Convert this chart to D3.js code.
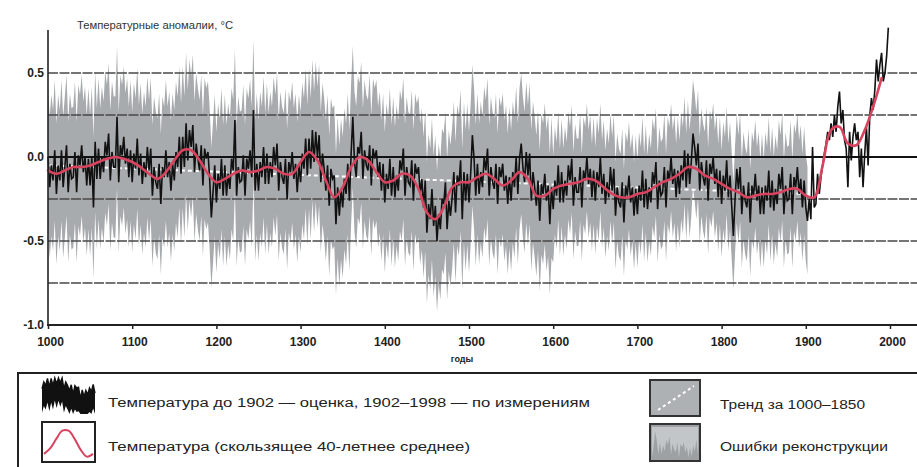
<!DOCTYPE html>
<html>
<head>
<meta charset="utf-8">
<script src="https://cdn.jsdelivr.net/npm/d3@7"></script>
<style>
  html, body { margin: 0; padding: 0; background: #fff; }
  svg { display: block; }
  text { font-family: "Liberation Sans", Arial, sans-serif; }
</style>
</head>
<body>
<svg id="chart" width="917" height="467"></svg>
<script>
// Northern hemisphere temperature anomalies, 1000-1998

// reconstruction / measurements, one value every 2 years (1000, 1002, ... 1998)
const reconVals = [
  0.00, -0.18, -0.05, -0.14, 0.04,   -0.22, -0.05, -0.14, 0.04, -0.18,
  -0.06, 0.07, -0.21, -0.04, -0.13,  -0.12, 0.03, -0.21, 0.01, -0.05,
  0.07, -0.09, 0.00, -0.17, -0.01,   -0.17, 0.00, -0.30, 0.09, -0.13,
  0.05, -0.13, 0.00, -0.09, 0.09,    0.01, 0.14, -0.14, 0.03, -0.06,
  -0.06, 0.24, -0.15, 0.07, 0.01,    0.12, -0.04, 0.05, -0.12, 0.04,
  // 1100
  -0.15, 0.02, -0.07, 0.11, -0.11,   0.02, -0.16, -0.03, -0.12, 0.06,
  -0.08, 0.05, -0.23, -0.06, -0.15,  -0.19, -0.04, -0.28, -0.06, -0.12,
  0.04, -0.12, -0.03, -0.20, -0.04,  -0.14, 0.03, -0.06, 0.12, -0.10,
  0.12, -0.06, 0.20, -0.02, 0.16,    0.06, 0.19, -0.09, 0.08, -0.01,
  -0.08, 0.07, -0.17, 0.05, -0.01,   0.03, -0.13, -0.36, -0.21, -0.05,
  // 1200
  -0.27, -0.10, -0.19, -0.01, -0.23, -0.05, -0.23, -0.10, -0.19, -0.01,
  -0.08, 0.22, -0.23, -0.06, -0.15,  -0.14, 0.01, -0.23, -0.01, -0.07,
  0.04, -0.12, 0.28, -0.20, -0.04,   -0.20, -0.03, -0.12, 0.06, -0.16,
  0.02, -0.16, -0.03, -0.12, 0.06,   -0.05, 0.08, -0.20, -0.03, -0.12,
  -0.16, -0.01, -0.25, -0.03, -0.09, 0.03, -0.13, -0.04, -0.21, -0.05,
  // 1300
  -0.15, 0.02, -0.07, 0.11, -0.11,   0.11, -0.07, 0.16, -0.03, 0.15,
  0.00, 0.13, -0.15, 0.02, -0.07,    -0.20, -0.05, -0.29, -0.07, -0.13,
  -0.11, -0.40, -0.18, -0.35, -0.19, -0.30, -0.13, -0.22, -0.04, -0.26,
  0.02, 0.24, -0.03, -0.12, 0.06,    0.02, 0.15, -0.13, 0.04, -0.05,
  -0.08, 0.07, -0.17, 0.05, -0.01,   0.04, -0.12, -0.03, -0.20, -0.04,
  // 1400
  -0.27, -0.10, -0.19, -0.01, -0.23, -0.06, -0.24, -0.11, -0.20, -0.02,
  -0.08, 0.05, -0.23, -0.06, -0.15,  -0.17, -0.02, -0.26, -0.04, -0.10,
  -0.06, -0.22, -0.13, -0.30, -0.14, -0.45, -0.28, -0.37, -0.19, -0.41,
  -0.29, -0.50, -0.34, -0.43, -0.25, -0.28, -0.15, -0.43, -0.26, -0.35,
  -0.24, -0.09, -0.33, -0.11, -0.17, -0.02, -0.37, -0.09, -0.26, -0.10,
  // 1500
  -0.27, -0.10, 0.13, -0.01, -0.23,  -0.04, -0.22, -0.09, -0.18, 0.00,
  -0.08, 0.05, -0.23, -0.06, -0.15,  -0.19, -0.04, -0.28, -0.06, -0.12,
  -0.04, -0.20, -0.11, -0.28, -0.12, -0.26, -0.09, -0.18, 0.00, -0.22,
  -0.01, 0.08, -0.06, -0.15, 0.03,   -0.11, 0.02, -0.26, -0.09, -0.18,
  -0.29, -0.14, -0.38, -0.16, -0.22, -0.10, -0.26, -0.17, -0.40, -0.18,
  // 1600
  -0.31, -0.14, -0.23, -0.05, -0.27, -0.09, -0.27, -0.14, -0.23, -0.05,
  -0.14, -0.01, -0.29, -0.12, -0.21, -0.21, -0.06, -0.30, -0.08, -0.14,
  0.00, -0.16, -0.07, -0.24, -0.08,  -0.26, -0.09, -0.18, 0.00, -0.22,
  -0.10, -0.28, -0.15, -0.24, -0.06, -0.20, -0.07, -0.35, -0.18, -0.27,
  -0.30, -0.15, -0.39, -0.17, -0.23, -0.11, -0.27, -0.18, -0.35, -0.19,
  // 1700
  -0.34, -0.17, -0.26, -0.08, -0.30, -0.13, -0.31, -0.18, -0.27, -0.09,
  -0.16, -0.03, -0.31, -0.14, -0.23, -0.21, -0.06, -0.30, -0.08, -0.14,
  0.00, -0.16, -0.07, -0.24, -0.08,  -0.22, -0.05, -0.14, 0.04, -0.18,
  0.02, -0.16, -0.03, 0.14, 0.06,    -0.05, 0.08, -0.20, -0.03, -0.12,
  -0.17, -0.02, -0.26, -0.04, -0.10, 0.00, -0.16, -0.07, -0.24, -0.08,
  // 1800
  -0.28, -0.11, -0.20, -0.02, -0.24, -0.11, -0.29, -0.47, -0.25, -0.07,
  -0.19, -0.06, -0.34, -0.17, -0.26, -0.30, -0.15, -0.39, -0.17, -0.23,
  -0.10, -0.26, -0.17, -0.34, -0.18, -0.34, -0.17, -0.26, -0.08, -0.30,
  -0.14, -0.32, -0.19, -0.28, -0.10, -0.19, -0.06, -0.34, -0.17, -0.26,
  -0.25, -0.10, -0.34, -0.12, -0.18, -0.06, -0.22, -0.13, -0.30, -0.14,
  // 1900
  -0.30, -0.38, -0.25, -0.37, 0.06,  -0.30, -0.28, -0.10, -0.22, -0.12,
  -0.05, 0.02, 0.08, 0.15, 0.10,     0.20, 0.12, 0.25, 0.15, 0.30,
  0.39, 0.20, 0.28, 0.10, 0.05,      -0.18, 0.15, -0.02, 0.12, 0.20,
  0.10, 0.15, -0.12, 0.05, -0.18,    0.02, 0.18, -0.05, 0.25, 0.35,
  0.28, 0.40, 0.58, 0.45, 0.55,      0.62, 0.45, 0.50, 0.60, 0.77
];
const reconStart = 1000;
const reconStep = 2;
const reconEnd = 1902;   // last year of the reconstruction (gray error band)

// 40-year running mean, every 10 years
const smoothYears = d3.range(1000, 2000, 10);
const smoothVals = [
  -0.08, -0.10, -0.08, -0.06, -0.06, -0.05, -0.03, -0.01, 0.00, -0.01,
  -0.03, -0.06, -0.10, -0.13, -0.09, -0.02, 0.04, 0.04, -0.02, -0.10,
  -0.15, -0.13, -0.10, -0.08, -0.09, -0.08, -0.06, -0.07, -0.10, -0.10,
  -0.03, 0.03, -0.02, -0.14, -0.24, -0.18, -0.06, 0.00, -0.02, -0.09,
  -0.15, -0.14, -0.10, -0.11, -0.19, -0.33, -0.37, -0.30, -0.18, -0.15,
  -0.15, -0.12, -0.10, -0.13, -0.17, -0.14, -0.09, -0.13, -0.23, -0.23,
  -0.19, -0.17, -0.16, -0.15, -0.13, -0.14, -0.18, -0.22, -0.24, -0.24,
  -0.22, -0.21, -0.18, -0.15, -0.13, -0.10, -0.06, -0.07, -0.11, -0.13,
  -0.16, -0.19, -0.21, -0.24, -0.23, -0.22, -0.22, -0.21, -0.19, -0.19,
  -0.23, -0.24, -0.05, 0.16, 0.18, 0.08, 0.07, 0.16, 0.30, 0.47
];

// reconstruction error (2 sigma) by period
const errStarts = [1000, 1600];
const errVals = [0.42, 0.32];

// linear trend 1000-1850
const trendYears = [1000, 1900];
const trendVals = [-0.05, -0.22];

const gridVals = [0.5, 0.25, -0.25, -0.5, -0.75];
const yTicks = [0.5, 0, -0.5, -1.0];
const xTicks = d3.range(1000, 2001, 100);

const titleText = "Температурные аномалии, °C";
const xTitle = "годы";
const legendItems = [
  { key: "recon", text: "Температура до 1902 — оценка, 1902–1998 — по измерениям" },
  { key: "smooth", text: "Температура (скользящее 40-летнее среднее)" },
  { key: "trend", text: "Тренд за 1000–1850" },
  { key: "error", text: "Ошибки реконструкции" }
];

const W = 917, H = 467;
const svg = d3.select("#chart");

const x = d3.scaleLinear().domain([1000, 2000]).range([48, 890]);
const y = d3.scaleLinear().domain([-1, 0.5]).range([325, 73]);

const recon = reconVals.map((v, i) => ({ yr: reconStart + i * reconStep, v: v }));
const errAt = yr => errVals[d3.bisectRight(errStarts, yr) - 1];

// gray error band
const band = recon.filter(d => d.yr <= reconEnd);
svg.append("path")
  .datum(band)
  .attr("fill", "#a8abad")
  .attr("d", d3.area()
    .x(d => x(d.yr))
    .y0(d => y(d.v - errAt(d.yr)))
    .y1(d => y(d.v + errAt(d.yr))));

// dashed grid lines
svg.append("g").selectAll("line")
  .data(gridVals)
  .join("line")
  .attr("x1", 48).attr("x2", W)
  .attr("y1", d => y(d)).attr("y2", d => y(d))
  .attr("stroke", "#484848")
  .attr("stroke-width", 1.6)
  .attr("stroke-dasharray", "10,1.5");

// trend (white dashes)
svg.append("path")
  .datum(trendYears.map((yr, i) => [yr, trendVals[i]]))
  .attr("fill", "none")
  .attr("stroke", "#fff")
  .attr("stroke-width", 2)
  .attr("stroke-dasharray", "4,3")
  .attr("d", d3.line().x(d => x(d[0])).y(d => y(d[1])));

// annual temperatures
svg.append("path")
  .datum(recon)
  .attr("fill", "none")
  .attr("stroke", "#111")
  .attr("stroke-width", 1.6)
  .attr("stroke-linejoin", "miter")
  .attr("d", d3.line().x(d => x(d.yr)).y(d => y(d.v)));

// zero line
svg.append("line")
  .attr("x1", 48).attr("x2", W)
  .attr("y1", y(0)).attr("y2", y(0))
  .attr("stroke", "#111").attr("stroke-width", 2.2);

// 40-year mean
svg.append("path")
  .datum(smoothYears.map((yr, i) => [yr, smoothVals[i]]))
  .attr("fill", "none")
  .attr("stroke", "#d8435f")
  .attr("stroke-width", 2.6)
  .attr("stroke-linecap", "round")
  .attr("d", d3.line().x(d => x(d[0])).y(d => y(d[1])).curve(d3.curveCatmullRom));

// axes
svg.append("line")
  .attr("x1", 48).attr("x2", 48)
  .attr("y1", 30).attr("y2", y(-1))
  .attr("stroke", "#222").attr("stroke-width", 1.6);

svg.append("line")
  .attr("x1", 47).attr("x2", W)
  .attr("y1", y(-1)).attr("y2", y(-1))
  .attr("stroke", "#222").attr("stroke-width", 2);

const xAxis = svg.append("g")
  .attr("transform", `translate(0,${y(-1)})`)
  .call(d3.axisBottom(x).tickValues(xTicks).tickSize(4).tickPadding(8).tickFormat(d3.format("d")));
xAxis.select(".domain").remove();
xAxis.selectAll("line").attr("stroke", "#222").attr("stroke-width", 1.5);
xAxis.selectAll("text")
  .attr("dx", 2)
  .attr("fill", "#222")
  .style("font-size", "12px")
  .style("font-weight", "bold")
  .style("font-family", "Liberation Sans, Arial, sans-serif");

svg.append("g").selectAll("text")
  .data(yTicks)
  .join("text")
  .attr("x", 44)
  .attr("y", d => y(d) + 4)
  .attr("text-anchor", "end")
  .attr("fill", "#222")
  .style("font-size", "12px")
  .style("font-weight", "bold")
  .text(d => d3.format(".1f")(d).replace("−", "-"));

svg.append("text")
  .attr("x", 462).attr("y", 362)
  .attr("text-anchor", "middle")
  .attr("fill", "#222")
  .style("font-size", "9px")
  .style("font-weight", "bold")
  .text(xTitle);

svg.append("text")
  .attr("x", 77).attr("y", 29)
  .attr("fill", "#333")
  .attr("textLength", 156)
  .attr("lengthAdjust", "spacingAndGlyphs")
  .style("font-size", "11px")
  .text(titleText);

// legend
const lg = svg.append("g");
lg.append("rect")
  .attr("x", 18).attr("y", 373)
  .attr("width", W).attr("height", 120)
  .attr("fill", "none")
  .attr("stroke", "#222").attr("stroke-width", 2);

const iconBoxes = {
  recon:  { x: 42,  y: 378, w: 53, h: 36 },
  smooth: { x: 42,  y: 422, w: 53, h: 40 },
  trend:  { x: 650, y: 380, w: 50, h: 36 },
  error:  { x: 650, y: 424, w: 50, h: 37 }
};
const textPos = {
  recon:  { x: 108, y: 407, len: 482 },
  smooth: { x: 108, y: 451, len: 362 },
  trend:  { x: 720, y: 409, len: 145 },
  error:  { x: 720, y: 451, len: 168 }
};

// icon: annual series (a slice of the record), dense black block with spiky edges
{
  const b = iconBoxes.recon;
  const slice = recon.filter(d => d.yr >= 1300 && d.yr < 1360);
  const ix = d3.scaleLinear().domain(d3.extent(slice, d => d.yr)).range([b.x, b.x + b.w]);
  const iy = d3.scaleLinear().domain([-0.6, 0.3]).range([b.y + b.h, b.y]).clamp(true);
  lg.append("path")
    .datum(slice)
    .attr("fill", "#111")
    .attr("d", d3.area().x(d => ix(d.yr)).y0(d => iy(d.v - 0.42)).y1(d => iy(d.v + 0.18)));
  lg.append("path")
    .datum(slice)
    .attr("fill", "none").attr("stroke", "#111").attr("stroke-width", 1.4)
    .attr("d", d3.line().x(d => ix(d.yr)).y(d => iy(d.v + 0.18)));
}

// icon: smoothed curve
{
  const b = iconBoxes.smooth;
  const slice = smoothYears.map((yr, i) => [yr, smoothVals[i]]).filter(d => d[0] >= 1130 && d[0] <= 1210);
  lg.append("rect")
    .attr("x", b.x).attr("y", b.y).attr("width", b.w).attr("height", b.h)
    .attr("fill", "#fff").attr("stroke", "#222").attr("stroke-width", 2);
  const ix = d3.scaleLinear().domain(d3.extent(slice, d => d[0])).range([b.x + 2, b.x + b.w - 2]);
  const iy = d3.scaleLinear().domain([-0.16, 0.06]).range([b.y + b.h - 4, b.y + 6]);
  lg.append("path")
    .datum(slice)
    .attr("fill", "none").attr("stroke", "#d8435f").attr("stroke-width", 2)
    .attr("d", d3.line().x(d => ix(d[0])).y(d => iy(d[1])).curve(d3.curveCatmullRom));
}

// icon: trend
{
  const b = iconBoxes.trend;
  lg.append("rect")
    .attr("x", b.x).attr("y", b.y).attr("width", b.w).attr("height", b.h)
    .attr("fill", "#aeb1b3").attr("stroke", "#333").attr("stroke-width", 2);
  const ix = d3.scaleLinear().domain(trendYears).range([b.x + 8, b.x + b.w - 6]);
  const iy = d3.scaleLinear().domain([trendVals[0], trendVals[1]]).range([b.y + 6, b.y + b.h - 6]);
  lg.append("path")
    .datum(trendYears.map((yr, i) => [yr, trendVals[i]]))
    .attr("fill", "none").attr("stroke", "#fff").attr("stroke-width", 2)
    .attr("stroke-dasharray", "3,3")
    .attr("d", d3.line().x(d => ix(d[0])).y(d => iy(-d[1] + trendVals[0] + trendVals[1])));
}

// icon: error band
{
  const b = iconBoxes.error;
  lg.append("rect")
    .attr("x", b.x).attr("y", b.y).attr("width", b.w).attr("height", b.h)
    .attr("fill", "#9ea1a3").attr("stroke", "#333").attr("stroke-width", 2);
  const slice = recon.filter(d => d.yr >= 1500 && d.yr < 1560);
  const ix = d3.scaleLinear().domain(d3.extent(slice, d => d.yr)).range([b.x + 2, b.x + b.w - 2]);
  const iy = d3.scaleLinear().domain([-0.3, 0.2]).range([b.y + b.h - 2, b.y + 3]);
  lg.append("path")
    .datum(slice)
    .attr("fill", "#c3c6c8")
    .attr("d", d3.area().x(d => ix(d.yr)).y0(b.y + 3).y1(d => iy(d.v)));
}

lg.selectAll("text.leg")
  .data(legendItems)
  .join("text")
  .attr("class", "leg")
  .attr("x", d => textPos[d.key].x)
  .attr("y", d => textPos[d.key].y)
  .attr("textLength", d => textPos[d.key].len)
  .attr("lengthAdjust", "spacingAndGlyphs")
  .attr("fill", "#222")
  .style("font-size", "12px")
  .text(d => d.text);
</script>
</body>
</html>
